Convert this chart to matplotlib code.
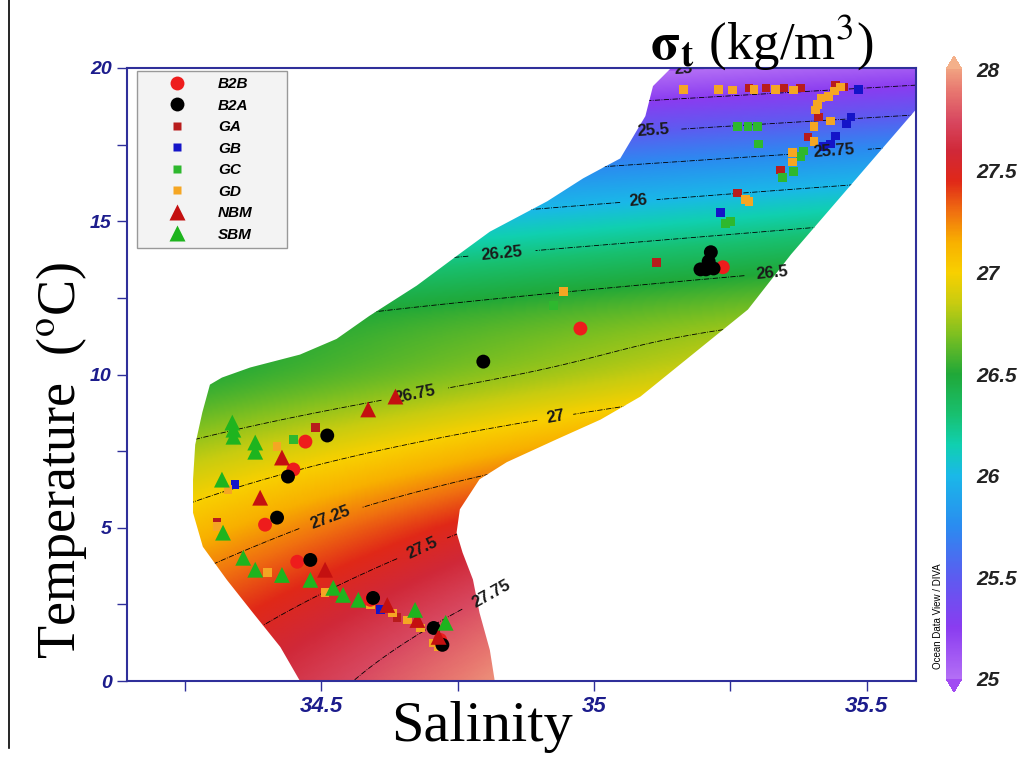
import numpy as np
import matplotlib
matplotlib.use("Agg")
import matplotlib.pyplot as plt
from matplotlib.colors import LinearSegmentedColormap, Normalize
from matplotlib.path import Path
from matplotlib.patches import PathPatch
from matplotlib.lines import Line2D

plt.rcParams['mathtext.fontset'] = 'stix'

# ---- station data (salinity, temperature) ----
b2b_s = [34.975, 35.236, 34.471, 34.449, 34.397, 34.456, 34.590, 34.718]
b2b_t = [11.50, 13.50, 7.81, 6.90, 5.10, 3.89, 2.65, 1.34]

b2a_s = [34.797, 35.214, 35.210, 35.205, 35.219, 35.195, 34.511, 34.439,
         34.419, 34.480, 34.595, 34.706, 34.722]
b2a_t = [10.42, 13.99, 13.69, 13.43, 13.46, 13.43, 8.01, 6.67,
         5.33, 3.95, 2.71, 1.73, 1.18]

ga_s = [35.284, 35.315, 35.348, 35.379, 35.443, 35.458, 35.412, 35.392,
        35.342, 35.263, 35.115, 34.489, 34.309, 34.639]
ga_t = [19.35, 19.35, 19.35, 19.35, 19.44, 19.38, 18.40, 17.75,
        16.67, 15.92, 13.66, 8.27, 5.16, 2.06]

gb_s = [35.484, 35.471, 35.462, 35.443, 35.434, 35.421, 35.232, 34.342, 34.608]
gb_t = [19.31, 18.40, 18.17, 17.78, 17.52, 17.45, 15.29, 6.40, 2.32]

gc_s = [35.263, 35.282, 35.300, 35.302, 35.384, 35.379, 35.366, 35.346,
        35.250, 35.241, 34.926, 34.449]
gc_t = [18.10, 18.10, 18.10, 17.52, 17.29, 17.12, 16.63, 16.44,
        15.00, 14.93, 12.25, 7.88]

gd_s = [35.164, 35.228, 35.254, 35.293, 35.333, 35.366, 35.452, 35.440,
        35.429, 35.416, 35.410, 35.406, 35.434, 35.403, 35.403, 35.364,
        35.364, 35.278, 35.284, 34.944, 34.419, 34.329, 34.309, 34.401,
        34.507, 34.590, 34.630, 34.658, 34.682, 34.706, 34.715]
gd_t = [19.31, 19.31, 19.28, 19.31, 19.31, 19.28, 19.38, 19.25,
        19.08, 19.02, 18.82, 18.63, 18.27, 18.10, 17.61, 17.25,
        16.93, 15.72, 15.65, 12.71, 7.65, 6.24, 5.03, 3.53,
        2.88, 2.48, 2.22, 1.99, 1.73, 1.24, 1.11]

nbm_s = [34.636, 34.586, 34.428, 34.388, 34.507, 34.621, 34.676, 34.715]
nbm_t = [9.28, 8.86, 7.29, 5.98, 3.63, 2.48, 1.99, 1.44]

sbm_s = [34.337, 34.339, 34.339, 34.379, 34.379, 34.318, 34.320, 34.357,
         34.379, 34.428, 34.480, 34.522, 34.540, 34.568, 34.672, 34.728]
sbm_t = [8.43, 8.20, 7.97, 7.78, 7.48, 6.57, 4.84, 4.02,
         3.63, 3.46, 3.30, 3.04, 2.81, 2.65, 2.32, 1.90]

# envelope of the gridded field (left edge top->bottom, then right edge bottom->top)
env_s = [35.15, 35.145, 35.108, 35.094, 35.048, 34.980, 34.914, 34.809, 34.759,
         34.675, 34.588, 34.528, 34.461, 34.370, 34.318, 34.296, 34.282, 34.269,
         34.265, 34.265, 34.283, 34.327, 34.375, 34.425, 34.461, 34.47,
         34.82, 34.818, 34.809, 34.790, 34.778, 34.759, 34.748, 34.754, 34.790,
         34.840, 34.932, 35.012, 35.085, 35.282, 35.361, 35.594, 35.8, 35.8]
env_t = [20.3, 20.07, 19.41, 18.43, 17.05, 16.40, 15.65, 14.66, 14.01,
         12.90, 11.91, 11.16, 10.65, 10.23, 9.90, 9.67, 8.76, 7.71,
         6.57, 5.49, 4.38, 3.30, 2.22, 1.11, 0.0, -0.3,
         -0.3, 0.0, 1.01, 2.23, 3.31, 4.19, 4.84, 5.60, 6.58,
         7.14, 7.89, 8.53, 9.28, 12.12, 13.92, 18.73, 19.0, 20.3]

sigma_levels = [25, 25.25, 25.5, 25.75, 26, 26.25, 26.5, 26.75, 27, 27.25, 27.5, 27.75]
label_pos = [(35.164, 19.90), (35.107, 18.07), (35.44, 17.3), (35.080, 15.88),
             (34.828, 14.48), (35.324, 13.59), (34.663, 9.97), (34.929, 8.59),
             (34.513, 5.52), (34.691, 4.12), (34.83, 2.32)]


def sigma_t(S, T):
    # UNESCO EOS-80 density at atmospheric pressure, minus 1000
    rho_w = (999.842594 + 6.793952e-2 * T - 9.095290e-3 * T**2 + 1.001685e-4 * T**3
             - 1.120083e-6 * T**4 + 6.536332e-9 * T**5)
    A = 8.24493e-1 - 4.0899e-3 * T + 7.6438e-5 * T**2 - 8.2467e-7 * T**3 + 5.3875e-9 * T**4
    B = -5.72466e-3 + 1.0227e-4 * T - 1.6546e-6 * T**2
    C = 4.8314e-4
    return rho_w + A * S + B * S**1.5 + C * S**2 - 1000.0


# ODV-like rainbow
cnodes = [(25.0, '#b36ef5'), (25.25, '#8a3cf0'), (25.5, '#5c5cf0'), (25.75, '#2a8cf0'),
          (26.0, '#1ab8e8'), (26.15, '#10d0b0'), (26.3, '#18c070'), (26.5, '#20a838'),
          (26.7, '#80c020'), (26.85, '#c8cc10'), (27.0, '#f8d000'), (27.15, '#f8b000'),
          (27.3, '#f07010'), (27.45, '#e02818'), (27.6, '#d02838'), (27.75, '#d84860'),
          (27.9, '#e87870'), (28.0, '#f0a080')]
cmap = LinearSegmentedColormap.from_list(
    'odv', [((v - 25) / 3.0, c) for v, c in cnodes], N=512)
cmap.set_under('#a24cf2')
cmap.set_over('#f4b08a')
norm = Normalize(vmin=25, vmax=28)

fig = plt.figure(figsize=(10.3, 7.66), dpi=100)
ax = fig.add_axes([127 / 1030, 1 - 681 / 766, 789 / 1030, 613 / 766])

sg = np.linspace(34.1, 35.8, 500)
tg = np.linspace(-0.5, 20.5, 500)
SS, TT = np.meshgrid(sg, tg)

# gridded field: sigma-t, relaxed toward the salinity of the stations at each
# temperature where the data are sparse (mimics the DIVA-smoothed ODV field)
all_s = np.concatenate([b2b_s, b2a_s, ga_s, gb_s, gc_s, gd_s, nbm_s, sbm_s])
all_t = np.concatenate([b2b_t, b2a_t, ga_t, gb_t, gc_t, gd_t, nbm_t, sbm_t])
w = np.exp(-0.5 * ((tg[:, None] - all_t[None, :]) / 1.2) ** 2)
s_path = (w * all_s).sum(axis=1) / w.sum(axis=1)
alpha = np.clip(1 - (tg - 5) / 7 * 0.65, 0.35, 1.0)
s_eff = s_path[:, None] + alpha[:, None] * (SS - s_path[:, None])
sig = sigma_t(s_eff, TT)

clip = PathPatch(Path(np.column_stack([env_s, env_t])), transform=ax.transData,
                 facecolor='none', edgecolor='none')
ax.add_patch(clip)

im = ax.imshow(sig, extent=[sg[0], sg[-1], tg[0], tg[-1]], origin='lower',
               cmap=cmap, norm=norm, aspect='auto', interpolation='bilinear', zorder=1)
im.set_clip_path(clip)

cs = ax.contour(SS, TT, sig, levels=sigma_levels, colors='k', linewidths=0.6,
                linestyles='dashdot', zorder=2)
cs.set_clip_path(clip)
labels = ax.clabel(cs, manual=label_pos, fmt=lambda v: f'{v:g}', fontsize=12, inline=True)
for t in labels:
    t.set_fontweight('bold')
    t.set_color('#1a1a1a')
    t.set_family('Liberation Sans')

ax.scatter(ga_s, ga_t, marker='s', s=40, c='#b81c1c', edgecolors='none', zorder=3)
ax.scatter(gb_s, gb_t, marker='s', s=40, c='#1414c8', edgecolors='none', zorder=3)
ax.scatter(gc_s, gc_t, marker='s', s=40, c='#2eb82e', edgecolors='none', zorder=3)
ax.scatter(gd_s, gd_t, marker='s', s=40, c='#f5a623', edgecolors='none', zorder=3)
ax.scatter(b2b_s, b2b_t, marker='o', s=100, c='#ee1c1c', edgecolors='none', zorder=4)
ax.scatter(b2a_s, b2a_t, marker='o', s=100, c='#000000', edgecolors='none', zorder=4)
ax.scatter(nbm_s, nbm_t, marker='^', s=130, c='#c41010', edgecolors='none', zorder=5)
ax.scatter(sbm_s, sbm_t, marker='^', s=130, c='#1eb41e', edgecolors='none', zorder=5)

ax.set_xlim(34.144, 35.59)
ax.set_ylim(0, 20)
navy = '#2f2f9a'
for sp in ax.spines.values():
    sp.set_color(navy)
    sp.set_linewidth(1.5)
ax.set_xticks([34.5, 35, 35.5])
ax.set_xticklabels(['34.5', '35', '35.5'])
ax.set_xticks([34.25, 34.75, 35.25], minor=True)
ax.set_yticks([0, 5, 10, 15, 20])
ax.set_yticks([2.5, 7.5, 12.5, 17.5], minor=True)
ax.tick_params(which='both', direction='out', length=7, width=1, color=navy)
ax.tick_params(axis='x', labelsize=16, pad=4)
ax.tick_params(axis='y', labelsize=14, pad=4)
for lab in ax.get_xticklabels() + ax.get_yticklabels():
    lab.set_fontweight('bold')
    lab.set_fontstyle('italic')
    lab.set_color('#1c1c8c')
    lab.set_family('Liberation Sans')

ax.set_xlabel('Salinity', fontsize=42, family='Liberation Serif', va='center')
ax.xaxis.set_label_coords(0.45, -0.075)
ax.set_ylabel(r'Temperature  ($^{\mathrm{o}}$C)', fontsize=39, family='Liberation Serif',
              va='center')
ax.yaxis.set_label_coords(-0.083, 0.36)

# legend
handles = [
    Line2D([], [], ls='none', marker='o', ms=10, color='#ee1c1c', mec='none'),
    Line2D([], [], ls='none', marker='o', ms=10, color='#000000', mec='none'),
    Line2D([], [], ls='none', marker='s', ms=6, color='#b81c1c', mec='none'),
    Line2D([], [], ls='none', marker='s', ms=6, color='#1414c8', mec='none'),
    Line2D([], [], ls='none', marker='s', ms=6, color='#2eb82e', mec='none'),
    Line2D([], [], ls='none', marker='s', ms=6, color='#f5a623', mec='none'),
    Line2D([], [], ls='none', marker='^', ms=11, color='#c41010', mec='none'),
    Line2D([], [], ls='none', marker='^', ms=11, color='#1eb41e', mec='none'),
]
names = ['B2B', 'B2A', 'GA', 'GB', 'GC', 'GD', 'NBM', 'SBM']
leg = ax.legend(handles, names, loc='upper left', mode='expand',
                bbox_to_anchor=(0.0127, 0.5, 0.19, 0.495),
                frameon=True, fancybox=False, facecolor='#f3f3f3', edgecolor='#999999',
                framealpha=1, handlelength=4.4, handletextpad=0.5, labelspacing=0.49,
                borderpad=0.4, borderaxespad=0,
                prop={'family': 'Liberation Sans', 'weight': 'bold', 'style': 'italic', 'size': 11})
leg.get_frame().set_linewidth(1.0)
leg.set_zorder(10)

# colour bar
cax = fig.add_axes([946 / 1030, 1 - 692 / 766, 16 / 1030, 636 / 766])
cb = fig.colorbar(im, cax=cax, extend='both', extendfrac=0.022,
                  ticks=[25, 25.5, 26, 26.5, 27, 27.5, 28])
cb.outline.set_visible(False)
cb.ax.tick_params(length=0, pad=10)
cb.ax.set_yticklabels(['25', '25.5', '26', '26.5', '27', '27.5', '28'])
for lab in cb.ax.get_yticklabels():
    lab.set_fontweight('bold')
    lab.set_fontstyle('italic')
    lab.set_fontsize(15)
    lab.set_color('#222222')
    lab.set_family('Liberation Sans')

fig.text(938 / 1030, 1 - 616 / 766, 'Ocean Data View / DIVA', rotation=90,
         ha='center', va='center', fontsize=7, family='Liberation Sans')

fig.text(762 / 1030, 1 - 42 / 766, r'$\mathbf{\sigma_t}$ (kg/m$^3$)',
         ha='center', va='center', fontsize=38, family='Liberation Serif')

fig.add_artist(Line2D([9 / 1030, 9 / 1030], [1, 1 - 748 / 766], transform=fig.transFigure,
                      color='k', lw=1.2))

fig.savefig('out.png', dpi=100)
